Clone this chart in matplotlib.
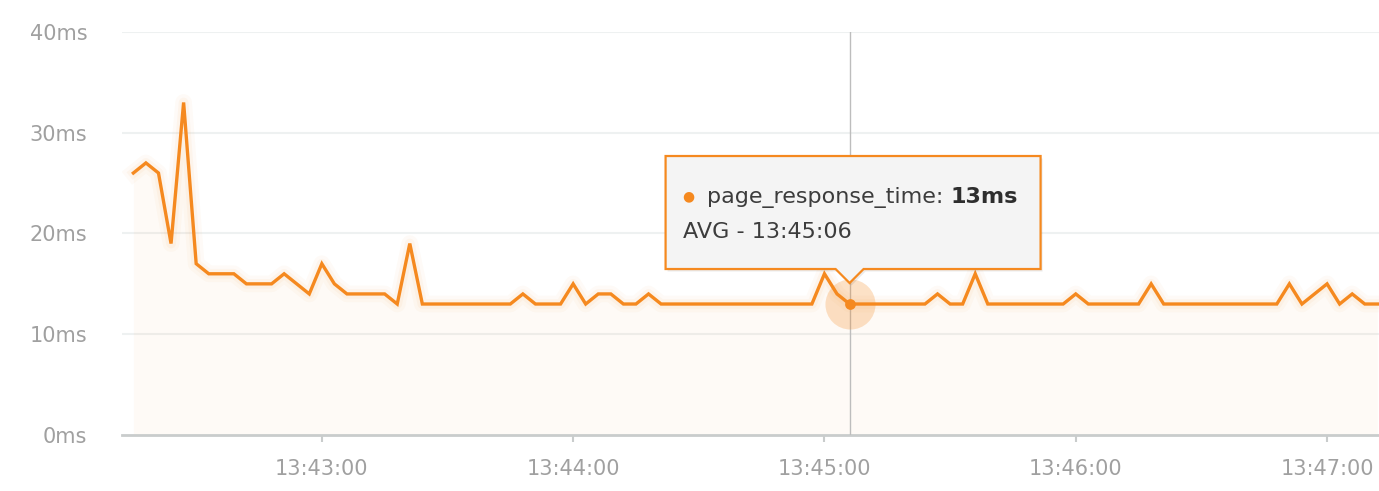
import matplotlib
matplotlib.use('Agg')
import matplotlib.dates as mdates
import matplotlib.pyplot as plt
import matplotlib.transforms as mtransforms
import numpy as np
from matplotlib.patches import Polygon

START = np.datetime64('2024-01-01T13:42:15')
STEP_SECONDS = 3

# page_response_time samples (ms), one every 3 seconds
response_ms = [
    26, 27, 26, 19, 33, 17, 16, 16, 16, 15,
    15, 15, 16, 15, 14, 17, 15, 14, 14, 14,
    14, 13, 19, 13, 13, 13, 13, 13, 13, 13,
    13, 14, 13, 13, 13, 15, 13, 14, 14, 13,
    13, 14, 13, 13, 13, 13, 13, 13, 13, 13,
    13, 13, 13, 13, 13, 16, 14, 13, 13, 13,
    13, 13, 13, 13, 14, 13, 13, 16, 13, 13,
    13, 13, 13, 13, 13, 14, 13, 13, 13, 13,
    13, 15, 13, 13, 13, 13, 13, 13, 13, 13,
    13, 13, 15, 13, 14, 15, 13, 14, 13, 13,
]
y_ticks = [0, 10, 20, 30, 40]
x_tick_labels = ['13:43:00', '13:44:00', '13:45:00', '13:46:00', '13:47:00']
hover_index = 57
series_name = 'page_response_time'

ORANGE = '#f5891f'
GRID = '#eef1f1'
TEXT = '#a0a0a0'

times = START + np.arange(len(response_ms)) * np.timedelta64(STEP_SECONDS, 's')
times = times.astype('datetime64[ms]').astype(object)
values = np.array(response_ms, dtype=float)

plt.rcParams['font.family'] = ['DejaVu Sans']

fig = plt.figure(figsize=(13.79, 4.91), dpi=100)
ax = fig.add_axes([0.0885, 0.114, 0.9115, 0.821])

x_left = np.datetime64('2024-01-01T13:42:12.300').astype(object)
x_right = np.datetime64('2024-01-01T13:47:12.400').astype(object)
ax.set_xlim(x_left, x_right)
ax.set_ylim(0, 40)

# faint area + glow + line
ax.fill_between(times, 0, values, color=ORANGE, alpha=0.04, lw=0, zorder=1)
ax.plot(times, values, color=ORANGE, lw=12, alpha=0.035, solid_joinstyle='round', zorder=2)
ax.plot(times, values, color=ORANGE, lw=7, alpha=0.05, solid_joinstyle='round', zorder=2)
ax.plot(times, values, color=ORANGE, lw=2.4, solid_joinstyle='miter', zorder=3)

ax.set_yticks(y_ticks)
ax.set_yticklabels([f'{v}ms' for v in y_ticks])
for v in y_ticks[1:]:
    ax.axhline(v, color=GRID, lw=1.5, zorder=0)

tick_times = [np.datetime64('2024-01-01T' + t).astype('datetime64[ms]').astype(object)
              for t in x_tick_labels]
ax.set_xticks(tick_times)
ax.set_xticklabels(x_tick_labels)

for side in ['top', 'right', 'left']:
    ax.spines[side].set_visible(False)
ax.spines['bottom'].set_color('#c9cccc')
ax.spines['bottom'].set_linewidth(2)
ax.tick_params(axis='y', length=0, pad=25, labelsize=15, labelcolor=TEXT)
ax.tick_params(axis='x', length=5, width=1.5, color='#c9cccc', pad=12,
               labelsize=15, labelcolor=TEXT)

# hover marker
hx, hy = times[hover_index], values[hover_index]
ax.axvline(hx, color='#bdbdbd', lw=1, zorder=4)
ax.scatter([hx], [hy], s=1300, color=ORANGE, alpha=0.25, lw=0, zorder=5)
ax.scatter([hx], [hy], s=60, color=ORANGE, lw=0, zorder=6)

# tooltip (offsets in pixels from the hovered point)
hover_trans = fig.dpi_scale_trans + mtransforms.ScaledTranslation(
    mdates.date2num(hx), hy, ax.transData)
box_px = [(-184, 35), (-14, 35), (0, 21), (14, 35), (191, 35), (191, 148), (-184, 148)]
shadow = Polygon([(x / 100 + 0.02, y / 100 - 0.025) for x, y in box_px], closed=True,
                 transform=hover_trans, facecolor='#000000', alpha=0.08, lw=0, zorder=7)
box = Polygon([(x / 100, y / 100) for x, y in box_px], closed=True, transform=hover_trans,
              facecolor='#f4f4f4', edgecolor=ORANGE, lw=1.6, zorder=8, joinstyle='miter')
ax.add_patch(shadow)
ax.add_patch(box)

ax.text(-1.67, 1.08, '●', transform=hover_trans, color=ORANGE, fontsize=10,
        va='center', ha='left', zorder=9)
t1 = ax.text(-1.43, 1.07, f'{series_name}: ', transform=hover_trans, color='#3c3c3c',
             fontsize=16, va='center', ha='left', zorder=9)
ax.annotate(f'{int(hy)}ms', xy=(1, 0.5), xycoords=t1, va='center', ha='left',
            fontsize=16, fontweight='bold', color='#2e2e2e', zorder=9)
ax.text(-1.67, 0.72, 'AVG - ' + hx.strftime('%H:%M:%S'), transform=hover_trans,
        color='#3c3c3c', fontsize=16, va='center', ha='left', zorder=9)

fig.savefig('out.png', dpi=100)
